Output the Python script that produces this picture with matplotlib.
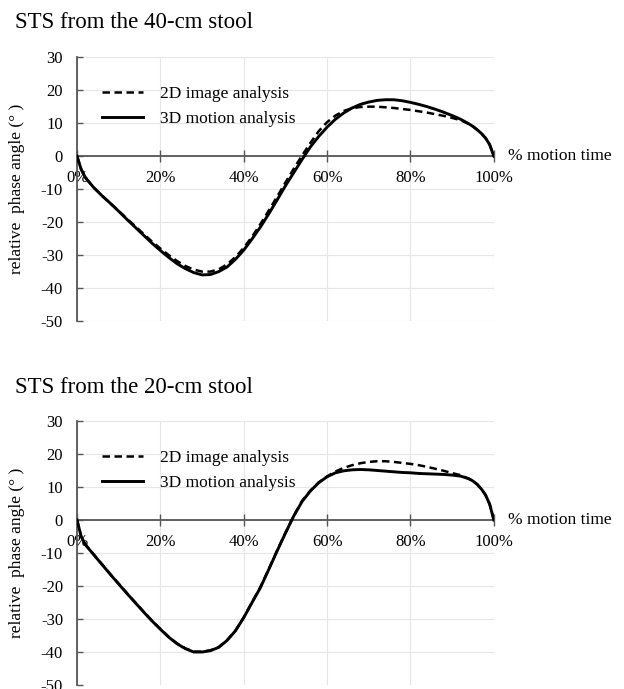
import numpy as np
import matplotlib
matplotlib.use('Agg')
import matplotlib.pyplot as plt

plt.rcParams['font.family'] = ['Liberation Serif', 'DejaVu Serif']

# % motion time and relative phase angle
pct = [0, 1, 2, 4, 6, 8, 10, 12, 14, 16, 18, 20, 22, 24, 26, 28, 30, 32, 34, 36, 38,
       40, 42, 44, 46, 48, 50, 52, 54, 56, 58, 60, 62, 64, 66, 68, 70, 72, 74, 76, 78,
       80, 82, 84, 86, 88, 90, 92, 94, 95, 96, 97, 98, 99, 100]

stool40_2d = [0, -4, -6.5, -9.5, -12, -14.3, -16.6, -19, -21.3, -23.6, -25.9, -28, -30,
              -31.8, -33.3, -34.4, -35, -35, -34.3, -32.8, -30.6, -27.8, -24.4, -20.6,
              -16.5, -12.3, -8, -3.8, 0.2, 4, 7.6, 10.3, 12.3, 13.7, 14.5, 14.9, 15, 15,
              14.8, 14.6, 14.3, 14, 13.6, 13.2, 12.7, 12.2, 11.6, 10.9, 9.8, 9, 8, 6.9,
              5.5, 3.5, 0]
stool40_3d = [0, -4, -6.5, -9.5, -12, -14.3, -16.7, -19.2, -21.6, -24, -26.4, -28.6, -30.7,
              -32.6, -34.1, -35.3, -36, -35.9, -35, -33.6, -31.3, -28.5, -25.1, -21.5,
              -17.5, -13.3, -9, -5, -1, 2.8, 6, 8.8, 11.2, 13.1, 14.6, 15.7, 16.4, 16.9,
              17.1, 17.1, 16.8, 16.3, 15.7, 15, 14.2, 13.3, 12.3, 11.2, 9.8, 9, 8, 6.9,
              5.5, 3.5, 0]

stool20_2d = [0, -5, -7.4, -10.4, -13.4, -16.4, -19.3, -22.2, -25, -27.8, -30.5, -33,
              -35.4, -37.4, -38.9, -39.9, -39.9, -39.5, -38.5, -36.4, -33.5, -29.5, -24.9,
              -20.3, -14.9, -9.3, -3.9, 1.3, 5.8, 8.9, 11.4, 13.2, 14.7, 15.8, 16.6, 17.2,
              17.6, 17.8, 17.8, 17.6, 17.3, 17, 16.6, 16.1, 15.5, 14.9, 14.2, 13.6, 12.5,
              11.8, 10.8, 9.4, 7.6, 4.8, 0]
stool20_3d = [0, -5, -7.5, -10.5, -13.5, -16.5, -19.4, -22.3, -25.1, -27.9, -30.6, -33.1,
              -35.5, -37.5, -39, -40, -40, -39.6, -38.6, -36.5, -33.6, -29.6, -25,
              -20.5, -15, -9.4, -4, 1.2, 5.6, 8.8, 11.3, 13.1, 14.3, 14.9, 15.2, 15.3,
              15.2, 15, 14.8, 14.6, 14.4, 14.3, 14.1, 14, 13.9, 13.8, 13.6, 13.3, 12.5,
              11.8, 10.8, 9.4, 7.6, 4.8, 0]

titles = ['STS from the 40-cm stool', 'STS from the 20-cm stool']
series_2d = [stool40_2d, stool20_2d]
series_3d = [stool40_3d, stool20_3d]
yticks = [30, 20, 10, 0, -10, -20, -30, -40, -50]
xticks = [0, 20, 40, 60, 80, 100]

fig = plt.figure(figsize=(6.24, 6.89), dpi=100)
boxes = [[0.1234, 0.534, 0.668, 0.383], [0.1234, 0.0058, 0.668, 0.3832]]
title_y = [0.968, 0.437]

for i in range(2):
    ax = fig.add_axes(boxes[i])
    ax.plot(pct, series_2d[i], color='black', lw=1.8, ls=(0, (3.0, 1.8)),
            label='2D image analysis', zorder=3)
    ax.plot(pct, series_3d[i], color='black', lw=2.1, label='3D motion analysis', zorder=4)

    ax.set_xlim(0, 100)
    ax.set_ylim(-50, 30)
    ax.set_xticks(xticks)
    ax.set_xticklabels(['%d%%' % t for t in xticks])
    ax.set_yticks(yticks)
    ax.set_yticklabels([str(t) for t in yticks])
    ax.grid(True, color='#e6e6e6', lw=0.8)
    ax.set_axisbelow(True)

    for s in ['top', 'right']:
        ax.spines[s].set_visible(False)
    ax.spines['bottom'].set_position(('data', 0))
    ax.spines['bottom'].set_color('#555555')
    ax.spines['left'].set_color('#555555')
    ax.spines['left'].set_linewidth(1.3)
    ax.spines['bottom'].set_linewidth(1.3)
    ax.tick_params(axis='x', direction='inout', length=8, width=1.0, color='#555555',
                   labelsize=12, pad=6)
    ax.tick_params(axis='y', direction='in', length=4, width=1.0, color='#555555',
                   labelsize=12, pad=10)

    ax.set_ylabel('relative  phase angle (\u00b0 )', fontsize=12.5)
    ax.yaxis.set_label_coords(-0.125, 0.5)

    ax.text(1.035, 0, '% motion time', transform=ax.get_yaxis_transform(),
            ha='left', va='center', fontsize=12.5, clip_on=False)
    ax.legend(loc='upper left', bbox_to_anchor=(0.06, 0.89), frameon=False,
              fontsize=12.5, handlelength=2.35, handletextpad=1.0, labelspacing=0.5,
              borderpad=0, borderaxespad=0)

    fig.text(0.024, title_y[i], titles[i], fontsize=16.5, ha='left', va='center')

fig.savefig('out.png', dpi=100)
